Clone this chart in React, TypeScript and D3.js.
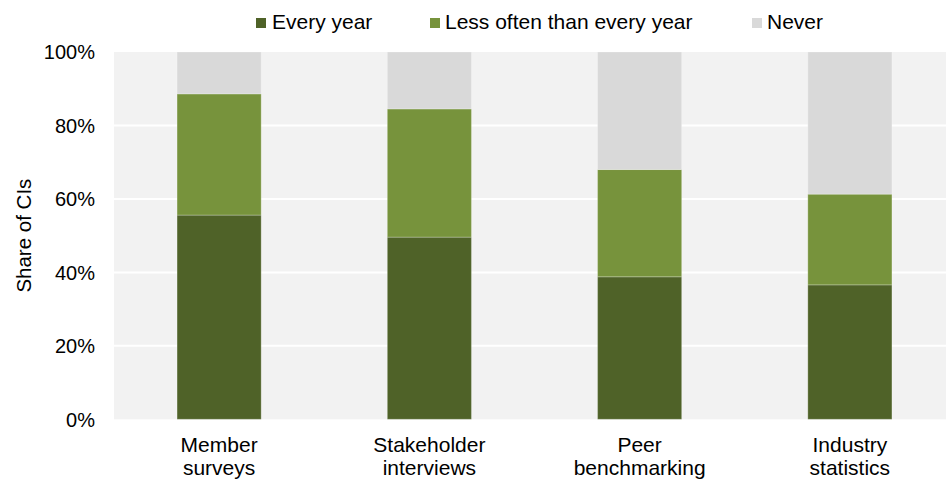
import React from "react";
import * as d3 from "d3";

const categories: string[][] = [
  ["Member", "surveys"],
  ["Stakeholder", "interviews"],
  ["Peer", "benchmarking"],
  ["Industry", "statistics"],
];
const seriesNames = ["Every year", "Less often than every year", "Never"];
const everyYear = [55.6, 49.6, 38.8, 36.6];
const lessOften = [33.0, 34.9, 29.2, 24.7];
const never = [11.4, 15.5, 32.0, 38.7];
const yTicks = [0, 20, 40, 60, 80, 100];
const colors = ["#4f6228", "#77933c", "#d9d9d9"];

const W = 946;
const H = 480;
const FONT = "'Liberation Sans', Arial, sans-serif";

export default function App() {
  const keys = categories.map((c) => c.join(" "));
  const x = d3.scaleBand<string>().domain(keys).range([114, 955]).paddingInner(0.6).paddingOuter(0.3);
  const y = d3.scaleLinear().domain([0, 100]).range([419.3, 52]);
  const rows = keys.map((k, i) => ({ key: k, s0: everyYear[i], s1: lessOften[i], s2: never[i] }));
  const stack = d3.stack<any>().keys(["s0", "s1", "s2"]);
  const stacked = stack(rows);

  const legendX = [256, 430, 752];
  const legendTextX = [272, 445, 767];

  return (
    <svg width={W} height={H} style={{ position: "absolute", left: 0, top: 0 }} fontFamily={FONT}>
      <rect x={114} y={y(100)} width={W - 114} height={y(0) - y(100)} fill="#f2f2f2" />
      {yTicks.filter((t) => t > 0 && t < 100).map((t) => (
        <line key={t} x1={114} x2={W} y1={y(t)} y2={y(t)} stroke="#ffffff" strokeWidth={2} />
      ))}
      {stacked.map((layer, li) => (
        <g key={li} fill={colors[li]}>
          {layer.map((d, i) => (
            <rect
              key={i}
              x={x(keys[i])!}
              width={x.bandwidth()}
              y={y(Math.min(d[1], 100))}
              height={y(d[0]) - y(Math.min(d[1], 100))}
              stroke="rgba(255,255,255,0.25)"
              strokeWidth={1}
            />
          ))}
        </g>
      ))}
      {yTicks.map((t) => (
        <text key={t} x={95} y={y(t)} dy="0.36em" textAnchor="end" fontSize={20} fill="#000">
          {t}%
        </text>
      ))}
      <text
        transform={`translate(31, ${(y(0) + y(100)) / 2}) rotate(-90)`}
        textAnchor="middle"
        fontSize={20.5}
        fill="#000"
      >
        Share of CIs
      </text>
      {categories.map((c, i) => (
        <text key={i} x={x(keys[i])! + x.bandwidth() / 2} textAnchor="middle" fontSize={21} fill="#000">
          <tspan x={x(keys[i])! + x.bandwidth() / 2} y={451.5}>{c[0]}</tspan>
          <tspan x={x(keys[i])! + x.bandwidth() / 2} y={475}>{c[1]}</tspan>
        </text>
      ))}
      {seriesNames.map((s, i) => (
        <g key={s}>
          <rect x={legendX[i]} y={18} width={10} height={10} fill={colors[i]} />
          <text x={legendTextX[i]} y={29} fontSize={21} fill="#000">{s}</text>
        </g>
      ))}
    </svg>
  );
}
